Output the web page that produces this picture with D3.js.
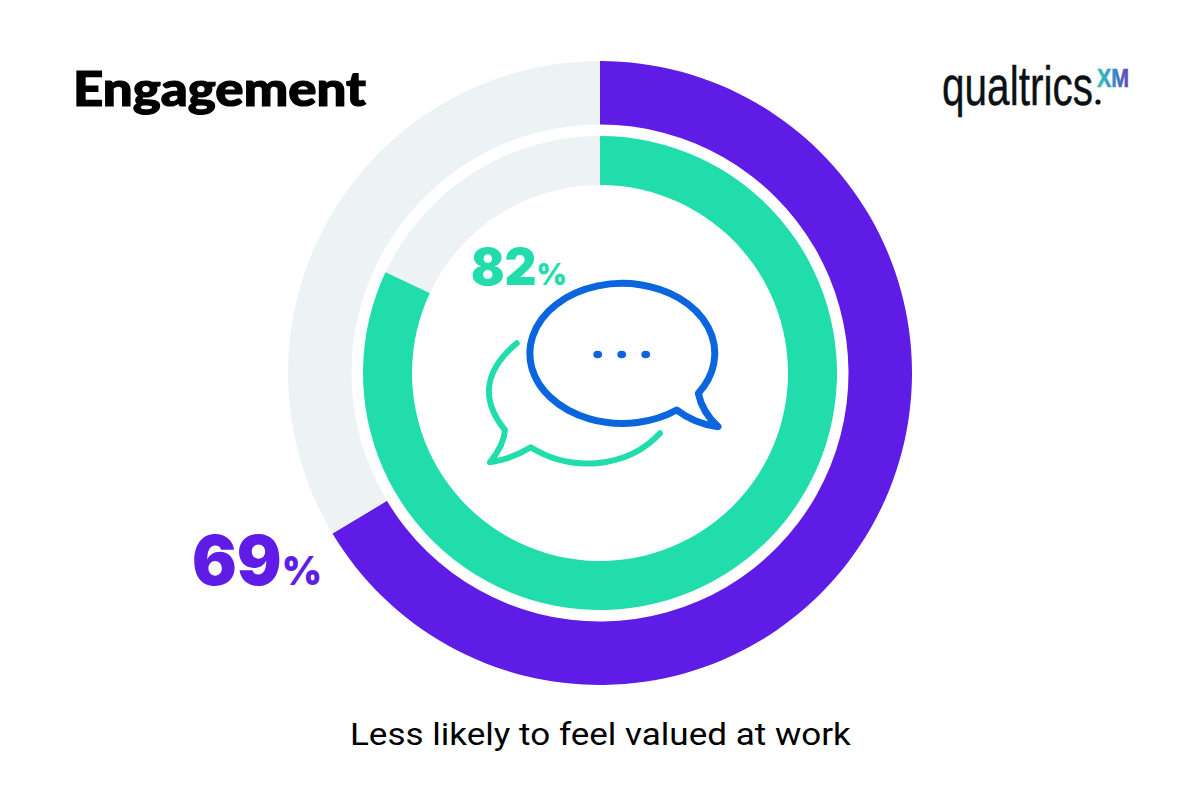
<!DOCTYPE html>
<html>
<head>
<meta charset="utf-8">
<script src="https://cdn.jsdelivr.net/npm/d3@7"></script>
<style>
html, body { margin: 0; padding: 0; background: #fff; }
svg { display: block; }
</style>
</head>
<body>
<div id="chart"></div>
<script>
'use strict';

var ringNames = ["Outer", "Inner"];
// swept share: the outer ring stops short of its printed 69%
var ringValues = [66.4, 82];
var ringLabels = ["69", "82"];
var ringColors = ["#5f1ce6", "#21ddac"];
var trackColor = "#edf2f4";
var outerRadii = [312, 237];
var innerRadii = [248.5, 188];

var title = "Engagement";
var caption = "Less likely to feel valued at work";

var width = 1200, height = 800;
var cx = 600, cy = 373;

var svg = d3.select("#chart").append("svg")
	.attr("width", width)
	.attr("height", height)
	.style("background", "#fff");

var defs = svg.append("defs");
var grad = defs.append("linearGradient").attr("id", "xmGrad");
grad.append("stop").attr("offset", "0%").attr("stop-color", "#2fc9b4");
grad.append("stop").attr("offset", "50%").attr("stop-color", "#3a8fc8");
grad.append("stop").attr("offset", "100%").attr("stop-color", "#5d45b5");

var pie = d3.pie().sort(null).value(function(d){ return d; });
var arc = d3.arc();
var rings = svg.append("g").attr("transform", "translate(" + cx + "," + cy + ")");

ringValues.forEach(function(value, i){
	rings.selectAll(".slice-" + i)
		.data(pie([value, 100 - value]))
		.enter().append("path")
		.attr("class", "slice-" + i)
		.attr("fill", function(d, j){ return j == 0 ? ringColors[i] : trackColor; })
		.attr("d", function(d){
			return arc({
				innerRadius: innerRadii[i],
				outerRadius: outerRadii[i],
				startAngle: d.startAngle,
				endAngle: d.endAngle
			});
		});
});

// squeeze a text to the wanted width without textLength
function fitText(sel, x, y, w){
	var natural = sel.node().getComputedTextLength();
	sel.attr("transform", "translate(" + x + "," + y + ") scale(" + (w / natural) + ",1)");
	return sel;
}

fitText(svg.append("text")
	.attr("font-family", "Lato, sans-serif")
	.attr("font-weight", 900)
	.attr("font-size", 47)
	.attr("fill", "#000")
	.attr("stroke", "#000")
	.attr("stroke-width", 1.2)
	.text(title), 73, 106, 293);

fitText(svg.append("text")
	.attr("font-family", "Roboto, sans-serif")
	.attr("font-size", 32)
	.attr("fill", "#000")
	.text(caption), 350, 745, 501);

// big number plus the smaller percent sign, one text so they cannot collide
function valueLabel(i, x, y, size, pctSize, w){
	var t = svg.append("text")
		.attr("font-family", "Inter, Lato, sans-serif")
		.attr("font-weight", 900)
		.attr("font-size", size)
		.attr("fill", ringColors[i]);
	t.append("tspan").text(ringLabels[i]);
	t.append("tspan").attr("font-size", pctSize).text("%");
	fitText(t, x, y, w);
}
valueLabel(0, 192, 585, 69, 40, 130);
valueLabel(1, 471, 285, 51, 30, 96);

// speech bubbles
var icons = svg.append("g")
	.attr("fill", "none")
	.attr("stroke-linecap", "round")
	.attr("stroke-linejoin", "round");

icons.append("path")
	.attr("d", "M676.7 410 A92.5 70 0 1 1 698.3 393.3 Q702 412 718 426.7 Q695 424 676.7 410 Z")
	.attr("stroke", "#0b66de")
	.attr("stroke-width", 7);

icons.append("path")
	.attr("d", "M516.7 343.3 C482 372 482 402 505 430 Q504 445 490 462.3 Q512 459 530.7 447.3 C572 473 628 468 660 433.3")
	.attr("stroke", "#21ddac")
	.attr("stroke-width", 6);

icons.selectAll("ellipse")
	.data([597.7, 621.7, 645.7])
	.enter().append("ellipse")
	.attr("cx", function(d){ return d; })
	.attr("cy", 354.5)
	.attr("rx", 4.4)
	.attr("ry", 3.8)
	.attr("fill", "#0b66de");

// logo
fitText(svg.append("text")
	.attr("font-family", "'Liberation Sans Narrow', 'Liberation Sans', sans-serif")
	.attr("font-size", 56)
	.attr("fill", "#0b1115")
	.attr("stroke", "#0b1115")
	.attr("stroke-width", 0.4)
	.text("qualtrics"), 942, 105, 151);

svg.append("circle")
	.attr("cx", 1098).attr("cy", 102)
	.attr("r", 2.6)
	.attr("fill", "#0b1115");

fitText(svg.append("text")
	.attr("font-family", "'Liberation Sans', sans-serif")
	.attr("font-weight", 700)
	.attr("font-size", 25)
	.attr("fill", "url(#xmGrad)")
	.attr("stroke", "url(#xmGrad)")
	.attr("stroke-width", 0.6)
	.text("XM"), 1097, 87, 32);
</script>
</body>
</html>
